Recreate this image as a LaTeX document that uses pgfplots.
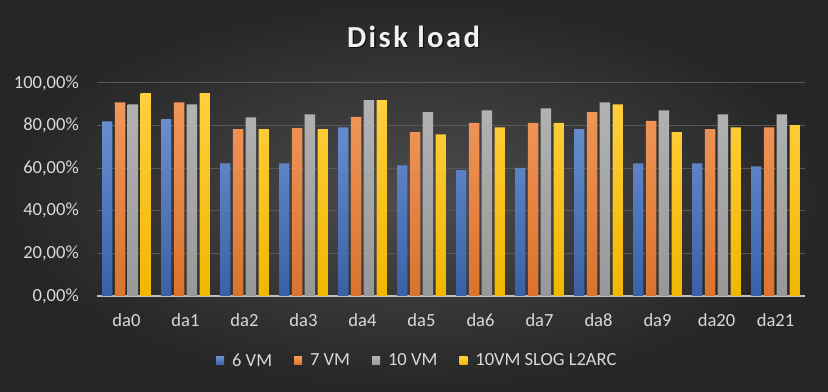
\documentclass[border=0pt]{standalone}
\usepackage{pgfplots}
\pgfplotsset{compat=1.18}
\usepackage{fontspec}
\setmainfont{Carlito}
\definecolor{bgin}{HTML}{4C4C4C}
\definecolor{bgout}{HTML}{262626}
\definecolor{gridc}{HTML}{585858}
\definecolor{txt}{HTML}{D9D9D9}
\definecolor{cblue}{HTML}{4472C4}
\definecolor{corange}{HTML}{ED7D31}
\definecolor{cgray}{HTML}{A5A5A5}
\definecolor{cyellow}{HTML}{FFC000}
\begin{document}
\begin{tikzpicture}[x=0.75pt,y=0.75pt]
\shade[inner color=bgin, outer color=bgout] (0,0) rectangle (828,392);
\node[text=black, opacity=0.6, font=\fontsize{22.9pt}{26pt}\selectfont\bfseries\addfontfeature{LetterSpace=8}] at (414.8,354.3) {Disk load};
\node[text=white!95!black, font=\fontsize{22.9pt}{26pt}\selectfont\bfseries\addfontfeature{LetterSpace=8}] at (413.5,355.5) {Disk load};
\begin{axis}[
  at={(72.75pt,72pt)}, anchor=south west,
  scale only axis, width=531pt, height=159.75pt,
  xmin=-0.5, xmax=11.5, ymin=0, ymax=100,
  axis x line=bottom, axis y line=left,
  x axis line style={draw=white!75!black, line width=1pt, -},
  y axis line style={draw=none},
  major tick length=0pt,
  xtick={0,...,11},
  xticklabels={da0,da1,da2,da3,da4,da5,da6,da7,da8,da9,da20,da21},
  ytick={0,20,40,60,80,100},
  yticklabels={{0,00\%},{20,00\%},{40,00\%},{60,00\%},{80,00\%},{100,00\%}},
  ymajorgrids, major grid style={gridc, line width=0.75pt},
  tick label style={text=txt, font=\fontsize{13.9pt}{16pt}\selectfont, inner sep=0pt},
  yticklabel style={xshift=-13.5pt},
  xticklabel style={yshift=-13pt},
  ybar, bar width=0.175,
  legend columns=4,
  legend style={at={(0.451,-0.305)}, anchor=center, draw=none, fill=none,
    text=txt, font=\fontsize{13.9pt}{16pt}\selectfont,
    nodes={inner sep=0pt},
    /tikz/every odd column/.append style={column sep=6pt},
    /tikz/every even column/.append style={column sep=16.5pt}},
  legend image code/.code={\fill[#1] (0pt,-3pt) rectangle (6pt,3pt);},
]
\addplot[draw=none, top color=cblue!80!white, bottom color=cblue!85!black, bar shift=-0.325] coordinates {
(0,82) (1,83) (2,62.3) (3,62.3) (4,79.2) (5,61.3) (6,59.1) (7,60.2) (8,78.3) (9,62.3) (10,62.3) (11,60.9)};
\addplot[draw=none, top color=corange!80!white, bottom color=corange!92!black, bar shift=-0.108] coordinates {
(0,90.9) (1,90.9) (2,78.3) (3,78.8) (4,84.1) (5,76.9) (6,81.3) (7,81.3) (8,86.3) (9,82.2) (10,78.3) (11,79.2)};
\addplot[draw=none, top color=cgray!85!white, bottom color=cgray!92!black, bar shift=0.108] coordinates {
(0,90) (1,90) (2,83.9) (3,85.3) (4,91.9) (5,86.3) (6,87.2) (7,88.1) (8,90.9) (9,87.2) (10,85.3) (11,85.3)};
\addplot[draw=none, top color=cyellow!75!white, bottom color=cyellow!95!black, bar shift=0.325] coordinates {
(0,95.3) (1,95.3) (2,78.3) (3,78.3) (4,91.9) (5,75.9) (6,79.2) (7,81.3) (8,90) (9,76.9) (10,79.2) (11,80.2)};
\legend{6 VM, 7 VM, 10 VM, 10VM SLOG L2ARC}
\end{axis}
\end{tikzpicture}
\end{document}
